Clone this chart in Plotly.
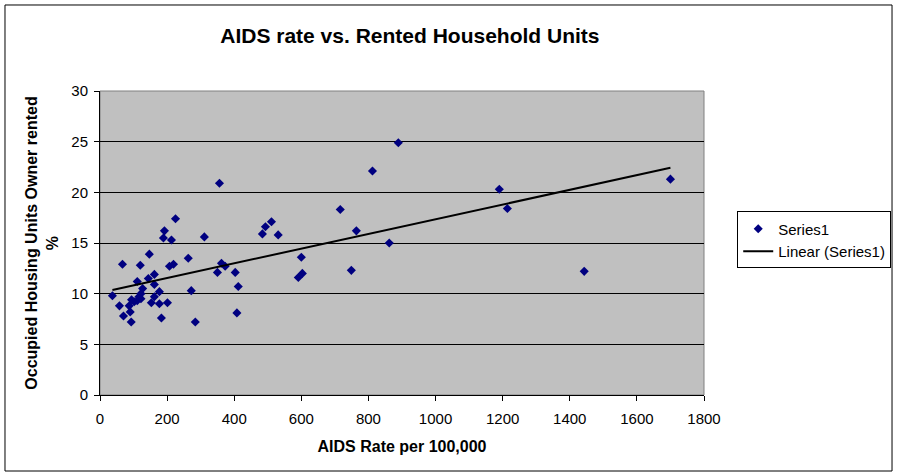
import numpy as np
import plotly.graph_objects as go

# AIDS rate per 100,000 vs. % of occupied housing units that are renter-occupied
aids_rate = [37, 58, 70, 67, 93, 87, 90, 94, 102, 111, 116, 122, 122, 111, 120,
             127, 144, 147, 162, 162, 162, 153, 177, 177, 183, 201, 189, 192,
             213, 207, 219, 225, 263, 272, 284, 311, 356, 350, 362, 373, 403,
             412, 408, 484, 493, 511, 531, 600, 591, 603, 716, 764, 749, 812,
             889, 862, 1190, 1214, 1443, 1700]
rented_pct = [9.8, 8.8, 7.8, 12.9, 7.2, 8.8, 8.2, 9.4, 9.2, 9.3, 9.7, 10.0, 9.5,
              11.2, 12.8, 10.5, 11.5, 13.9, 11.9, 10.9, 9.7, 9.1, 10.2, 9.0, 7.6,
              9.1, 15.5, 16.2, 15.3, 12.7, 12.9, 17.4, 13.5, 10.3, 7.2, 15.6,
              20.9, 12.1, 13.0, 12.7, 12.1, 10.7, 8.1, 15.9, 16.6, 17.1, 15.8,
              13.6, 11.6, 12.0, 18.3, 16.2, 12.3, 22.1, 24.9, 15.0, 20.3, 18.4,
              12.2, 21.3]

FONT = "Liberation Sans, Arial, sans-serif"

# linear trendline (least squares), drawn between min and max x like Excel does
slope, intercept = np.polyfit(aids_rate, rented_pct, 1)
trend_x = [min(aids_rate), max(aids_rate)]
trend_y = [slope * v + intercept for v in trend_x]

fig = go.Figure()
fig.add_trace(go.Scatter(x=aids_rate, y=rented_pct, mode="markers", name="Series1",
                         marker=dict(symbol="diamond", size=7, color="#000080",
                                     line=dict(width=0))))
fig.add_trace(go.Scatter(x=trend_x, y=trend_y, mode="lines", name="Linear (Series1)",
                         line=dict(color="black", width=2)))

fig.update_layout(
    width=898, height=476,
    margin=dict(l=100, r=194, t=91, b=81, autoexpand=False),
    paper_bgcolor="white", plot_bgcolor="#C0C0C0",
    font=dict(family=FONT, size=15, color="black"),
    title=dict(text="<b>AIDS rate vs. Rented Household Units</b>",
               font=dict(family=FONT, size=21, color="black"),
               x=0.513, xref="paper", xanchor="center", y=0.926, yanchor="middle"),
    showlegend=True,
    legend=dict(x=1.055, y=0.51, xanchor="left", yanchor="middle",
                bgcolor="white", bordercolor="black", borderwidth=1,
                font=dict(family=FONT, size=15, color="black"),
                itemwidth=30, tracegroupgap=0),
    xaxis=dict(range=[0, 1800], dtick=200, tick0=0, showgrid=False, zeroline=False,
               showline=True, linecolor="black", linewidth=1,
               ticks="outside", ticklen=5, tickcolor="black",
               tickfont=dict(size=15), ticklabelstandoff=5,
               title=dict(text="<b>AIDS Rate per 100,000</b>", standoff=14,
                          font=dict(family=FONT, size=16))),
    yaxis=dict(range=[0, 30], dtick=5, tick0=0, showgrid=True, gridcolor="black",
               gridwidth=1, zeroline=False,
               showline=True, linecolor="black", linewidth=1,
               ticks="outside", ticklen=5, tickcolor="black",
               tickfont=dict(size=15), ticklabelstandoff=3,
               title=dict(text="<b>Occupied Housing Units Owner rented<br>%</b>",
                          standoff=8, font=dict(family=FONT, size=16))),
    shapes=[
        # plot area border (right/top edges in grey like Excel)
        dict(type="rect", xref="paper", yref="paper", x0=0, y0=0, x1=1, y1=1,
             line=dict(color="#808080", width=1), layer="below"),
        # outer chart border
        dict(type="rect", xref="paper", yref="paper",
             x0=-0.1573, x1=1.3113, y0=-0.2500, y1=1.2829,
             line=dict(color="black", width=1)),
    ],
)

fig.write_html("out.html", config={"displayModeBar": False},
               post_script="document.body.style.margin='0';")
